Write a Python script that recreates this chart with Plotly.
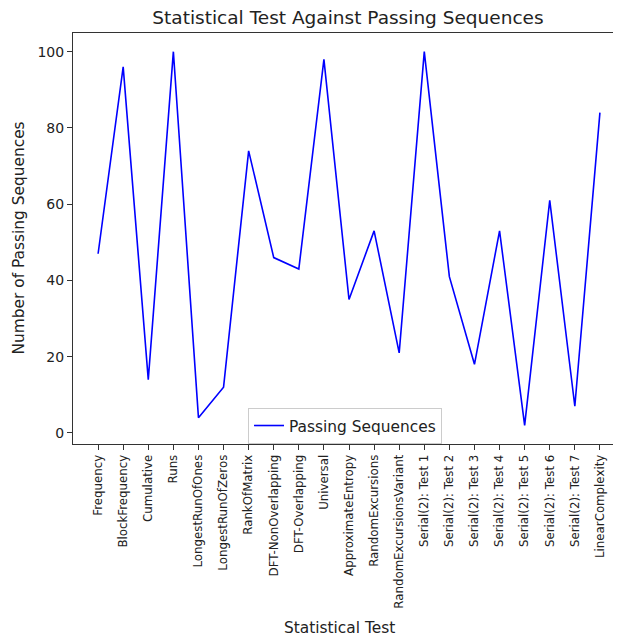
import plotly.graph_objects as go

tests = ["Frequency", "BlockFrequency", "Cumulative", "Runs", "LongestRunOfOnes",
         "LongestRunOfZeros", "RankOfMatrix", "DFT-NonOverlapping", "DFT-Overlapping",
         "Universal", "ApproximateEntropy", "RandomExcursions", "RandomExcursionsVariant",
         "Serial(2): Test 1", "Serial(2): Test 2", "Serial(2): Test 3", "Serial(2): Test 4",
         "Serial(2): Test 5", "Serial(2): Test 6", "Serial(2): Test 7", "LinearComplexity"]
passing = [47, 96, 14, 100, 4, 12, 74, 46, 43, 98, 35, 53, 21, 100, 41, 18, 53, 2, 61, 7, 84]
y_ticks = [0, 20, 40, 60, 80, 100]

idx = list(range(len(tests)))
font = "DejaVu Sans"
TXT = "#222222"

# page body has an 8px margin; work in figure coordinates
OFF = 8
W, H = 621 - OFF, 643 - OFF
PL, PT, PB = 73 - OFF, 33 - OFF, 444 - OFF
PW, PH = W - PL, PB - PT

fig = go.Figure()
fig.add_trace(go.Scatter(x=idx, y=passing, mode="lines", name="Passing Sequences",
                         line=dict(color="#0000ff", width=1.6)))

fig.update_layout(
    width=W, height=H,
    margin=dict(l=PL, r=0, t=PT, b=H - PB, pad=0, autoexpand=False),
    paper_bgcolor="white", plot_bgcolor="white",
    font=dict(family=font, color=TXT),
    title=dict(text="Statistical Test Against Passing Sequences",
               x=(348 - OFF) / W, xref="container", xanchor="center",
               y=1 - (18 - OFF) / H, yref="container", yanchor="middle",
               font=dict(size=18.5, family=font, color=TXT)),
    showlegend=True,
    legend=dict(x=(248 - 73) / PW, y=(444 - 408) / PH, xanchor="left", yanchor="top",
                bgcolor="rgba(255,255,255,0.8)", bordercolor="#cccccc", borderwidth=1,
                font=dict(size=15.4, family=font, color=TXT)),
    xaxis=dict(range=[-1, 20.84], tickmode="array", tickvals=idx, ticktext=tests,
               tickangle=-90, tickfont=dict(size=11.8, family=font, color=TXT),
               automargin=False,
               showgrid=False, zeroline=False, showline=True, linecolor="#333333",
               linewidth=1, mirror=True, ticks="outside", ticklen=5, tickcolor="#333333"),
    yaxis=dict(range=[-2.9, 104.9], tickmode="array", tickvals=y_ticks,
               tickfont=dict(size=14, family=font, color=TXT),
               automargin=False,
               showgrid=False, zeroline=False, showline=True, linecolor="#333333",
               linewidth=1, ticks="outside", ticklen=5, tickcolor="#333333"),
    annotations=[
        dict(text="Statistical Test", x=(339 - 73) / PW, y=(444 - 628) / PH,
             xref="paper", yref="paper",
             showarrow=False, font=dict(size=15.4, family=font, color=TXT),
             xanchor="center", yanchor="middle"),
        dict(text="Number of Passing Sequences", x=(18 - 73) / PW, y=0.5,
             xref="paper", yref="paper",
             showarrow=False, textangle=-90, font=dict(size=15.4, family=font, color=TXT),
             xanchor="center", yanchor="middle"),
    ],
)

fig.write_html("out.html")
